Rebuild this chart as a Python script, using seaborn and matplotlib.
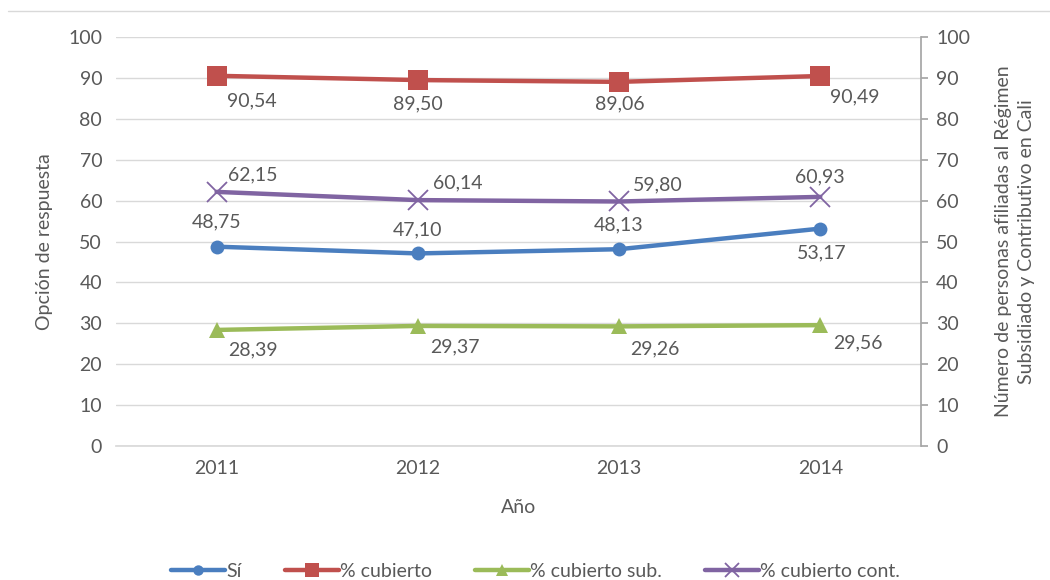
import matplotlib
matplotlib.use("Agg")
import matplotlib.pyplot as plt
from matplotlib.lines import Line2D
import pandas as pd
import seaborn as sns

# ── Data ──────────────────────────────────────────────────────────────────────
YEARS        = [2011, 2012, 2013, 2014]
SI           = [48.75, 47.10, 48.13, 53.17]
CUBIERTO     = [90.54, 89.50, 89.06, 90.49]
CUBIERTO_SUB = [28.39, 29.37, 29.26, 29.56]
CUBIERTO_CON = [62.15, 60.14, 59.80, 60.93]
SERIES_NAMES = ["Sí", "% cubierto", "% cubierto sub.", "% cubierto cont."]

# ── Style ─────────────────────────────────────────────────────────────────────
TEXT, GRID, AXIS = "#595959", "#D9D9D9", "#A6A6A6"
COLORS  = ["#4A7EBF", "#C0504D", "#9BBB59", "#8064A2"]
MARKERS = ["o", "s", "^", "x"]
MSIZES  = [10, 14, 12, 14]
FS = 14

sns.set_theme(style="white")
plt.rcParams.update({
    "font.family": ["Lato", "DejaVu Sans"], "text.color": TEXT,
    "axes.labelcolor": TEXT, "xtick.color": TEXT, "ytick.color": TEXT,
})

df = pd.DataFrame({"year": YEARS, SERIES_NAMES[0]: SI, SERIES_NAMES[1]: CUBIERTO,
                   SERIES_NAMES[2]: CUBIERTO_SUB, SERIES_NAMES[3]: CUBIERTO_CON})
long = df.melt(id_vars="year", var_name="serie", value_name="valor")

# label offsets in pixels (dx, dy) per series/point
OFFSETS = {
    "Sí":               [(0, 25), (0, 24), (0, 24), (1, -24)],
    "% cubierto":       [(35, -25), (0, -24), (1, -22), (35, -21)],
    "% cubierto sub.":  [(36, -20), (37, -21), (36, -22), (38, -18)],
    "% cubierto cont.": [(36, 17), (40, 17), (39, 17), (0, 20)],
}

fig = plt.figure(figsize=(10.5, 5.8), dpi=100, facecolor="white")
ax = fig.add_axes([0.1105, 0.231, 0.7665, 0.705])

for name, color, mk, ms in zip(SERIES_NAMES, COLORS, MARKERS, MSIZES):
    sub = long[long["serie"] == name]
    sns.lineplot(data=sub, x="year", y="valor", ax=ax, color=color, linewidth=3.2,
                 marker=mk, markersize=ms, markeredgecolor=color,
                 markeredgewidth=1.3 if mk == "x" else 0, legend=False)
    for (x, v), (dx, dy) in zip(zip(sub["year"], sub["valor"]), OFFSETS[name]):
        ax.annotate(f"{v:.2f}".replace(".", ","), (x, v), xytext=(dx, dy),
                    textcoords="offset pixels", ha="center", va="center",
                    fontsize=FS, color=TEXT)

ax.set_xlim(YEARS[0] - 0.5, YEARS[-1] + 0.5)
ax.set_ylim(0, 100)
ax.set_xticks(YEARS)
ax.set_yticks(range(0, 101, 10))
ax.grid(axis="y", color=GRID, linewidth=1)
ax.set_axisbelow(True)
for s in ["left", "right", "top"]:
    ax.spines[s].set_visible(False)
ax.spines["bottom"].set_color(GRID)
ax.tick_params(axis="both", length=0, labelsize=FS, pad=10)
ax.set_xlabel("Año", fontsize=FS, labelpad=16)
ax.set_ylabel("Opción de respuesta", fontsize=FS, labelpad=11)

ax2 = ax.twinx()
ax2.set_ylim(0, 100)
ax2.set_yticks(range(0, 101, 10))
for s in ["left", "top", "bottom"]:
    ax2.spines[s].set_visible(False)
ax2.spines["right"].set_color(AXIS)
ax2.tick_params(axis="y", length=5, color=AXIS, labelsize=FS, pad=6)
ax2.set_ylabel("Número de personas afiliadas al Régimen\nSubsidiado y Contributivo en Cali",
               fontsize=FS, labelpad=18, multialignment="center", linespacing=1.45)

handles = [Line2D([], [], color=c, linewidth=3.2, marker=m, markersize=s * 0.75,
                  markeredgecolor=c, markeredgewidth=1.3 if m == "x" else 0)
           for c, m, s in zip(COLORS, MARKERS, MSIZES)]
fig.legend(handles, SERIES_NAMES, loc="lower center", bbox_to_anchor=(0.51, -0.03),
           ncol=4, frameon=False, fontsize=FS, handlelength=2.8,
           handletextpad=0.05, columnspacing=2.2)

fig.add_artist(Line2D([0.008, 1.0], [0.981, 0.981], color=GRID, linewidth=1))

plt.savefig("out.png", dpi=100, facecolor="white")
plt.close()
